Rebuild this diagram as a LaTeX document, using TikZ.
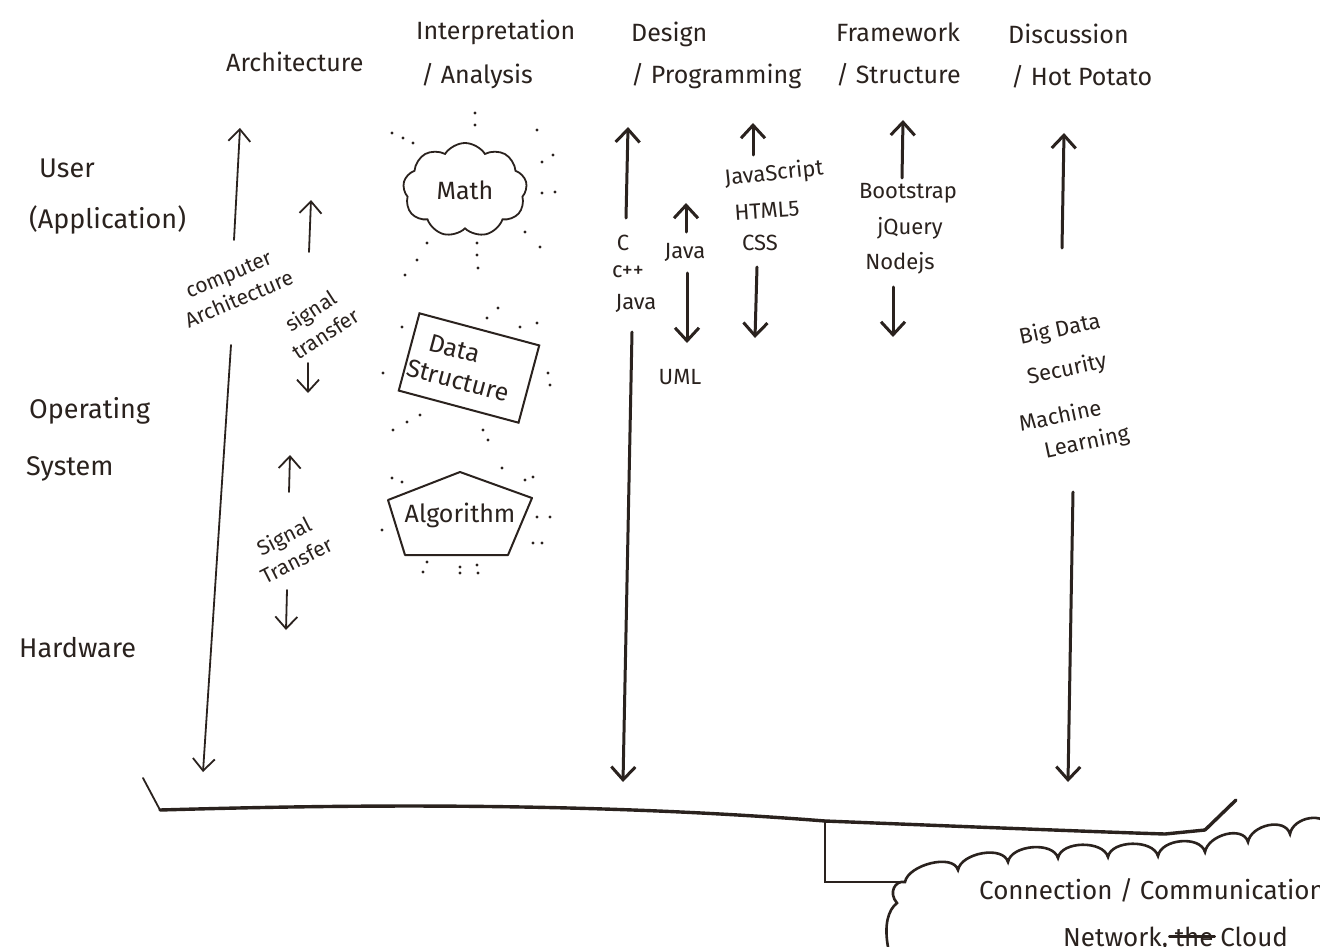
\documentclass[tikz,border=0pt]{standalone}
\usepackage{fontspec}
\setmainfont{Fira Sans}
\usetikzlibrary{arrows.meta,shapes.symbols,shapes.geometric}
\definecolor{ink}{HTML}{2A221E}
\begin{document}
\begin{tikzpicture}[x=1pt,y=-1pt,
  pen/.style={draw=ink,line width=1.8pt,line cap=round},
  mk/.style={draw=ink,line width=3pt,line cap=round},
  penarr/.style={pen,-{Straight Barb[length=12pt,width=22pt]}},
  mkarr/.style={mk,-{Straight Barb[length=13pt,width=24pt]}},
  lbl/.style={font=\fontsize{25}{30}\selectfont,text=ink,inner sep=1pt},
  side/.style={font=\fontsize{27}{32}\selectfont,text=ink,inner sep=1pt},
  slbl/.style={font=\fontsize{21}{27}\selectfont,text=ink,inner sep=1pt,align=center},
  mtxt/.style={font=\fontsize{22}{26}\selectfont,text=ink,inner sep=1pt},
  btxt/.style={font=\fontsize{26}{30}\selectfont,text=ink,inner sep=1pt},
  dot/.style={fill=ink}]
\useasboundingbox (0,0) rectangle (1320,947);
\fill[white] (0,0) rectangle (1320,947);
\clip (0,0) rectangle (1320,947);

% headings
\node[lbl,anchor=base west] (arch) at (225,72) {Architecture};
\node[lbl,anchor=base west] (interp) at (415,40) {Interpretation};
\node[lbl,anchor=base west] (analysis) at (420,84) {/ Analysis};
\node[lbl,anchor=base west] (design) at (630,42) {Design};
\node[lbl,anchor=base west] (prog) at (630,84) {/ Programming};
\node[lbl,anchor=base west] (frame) at (835,42) {Framework};
\node[lbl,anchor=base west] (struct) at (835,84) {/ Structure};
\node[lbl,anchor=base west] (disc) at (1007,44) {Discussion};
\node[lbl,anchor=base west] (hot) at (1010,86) {/ Hot Potato};

% left layer labels
\node[side,anchor=base west] (user) at (38,177) {User};
\node[side,anchor=base west] (app) at (28,228) {(Application)};
\node[side,anchor=base west] (os1) at (28,418) {Operating};
\node[side,anchor=base west] (os2) at (25,475) {System};
\node[side,anchor=base west] (hw) at (18,657) {Hardware};

% architecture column
\node[slbl,rotate=23] (comparch) at (234,287) {computer\\Architecture};
\node[slbl,rotate=33] (sig1) at (318,322) {signal\\transfer};
\node[slbl,rotate=27] (sig2) at (290,548) {Signal\\Transfer};
\coordinate (a1s) at (234,240); \coordinate (a1e) at (240,128);
\coordinate (a2s) at (231,345); \coordinate (a2e) at (203,772);
\coordinate (s1us) at (309,252); \coordinate (s1ue) at (311,200);
\coordinate (s1ds) at (308,363); \coordinate (s1de) at (308,393);
\coordinate (s2us) at (289,492); \coordinate (s2ue) at (290,455);
\coordinate (s2ds) at (287,590); \coordinate (s2de) at (286,630);
\draw[penarr] (a1s) -- (a1e);
\draw[penarr] (a2s) -- (a2e);
\draw[penarr] (s1us) -- (s1ue);
\draw[penarr] (s1ds) -- (s1de);
\draw[penarr] (s2us) -- (s2ue);
\draw[penarr] (s2ds) -- (s2de);

% interpretation column
\node[cloud,draw=ink,line width=1.8pt,cloud puffs=9,cloud puff arc=115,aspect=1.4,
      minimum width=124pt,minimum height=94pt,lbl] (math) at (465,190) {Math};
\node[draw=ink,line width=2pt,rotate=-15,minimum width=124pt,minimum height=80pt,
      lbl,align=left] (ds) at (469,368) {Data\\\hspace*{-0.6em}Structure};
\coordinate (p1) at (460,472); \coordinate (p2) at (532,498);
\coordinate (p3) at (508,555); \coordinate (p4) at (405,555);
\coordinate (p5) at (388,500);
\draw[pen,line width=2pt,line join=round] (p1) -- (p2) -- (p3) -- (p4) -- (p5) -- cycle;
\node[lbl] (algo) at (460,515) {Algorithm};
\foreach \p in {(475,113),(475,125),(392,133),(403,138),(413,143),(537,130),(553,155),
  (542,162),(542,193),(555,192),(525,232),(540,247),(477,243),(477,255),(478,268),
  (427,243),(417,260),(405,275),
  (498,308),(487,318),(520,327),(537,323),(402,327),(548,373),(550,385),(383,373),
  (420,415),(407,422),(393,430),(483,430),(488,440),
  (502,468),(525,480),(533,477),(392,478),(402,482),(537,517),(550,517),(533,543),
  (542,543),(382,530),(427,562),(423,572),(460,567),(460,573),(477,565),(478,573)}
  \fill[dot] \p circle (1.7);

% design column
\node[mtxt] (c) at (623,243) {C};
\node[mtxt] (cpp) at (628,272) {c++};
\node[mtxt] (java1) at (636,303) {Java};
\coordinate (d1s) at (626,218); \coordinate (d1e) at (628,127);
\coordinate (d2s) at (632,332); \coordinate (d2e) at (623,782);
\draw[mkarr] (d1s) -- (d1e);
\draw[mkarr] (d2s) -- (d2e);
\node[mtxt] (java2) at (685,252) {Java};
\node[mtxt] (uml) at (680,377) {UML};
\coordinate (j1s) at (686,232); \coordinate (j1e) at (686,203);
\coordinate (j2s) at (687,273); \coordinate (j2e) at (687,343);
\draw[mkarr] (j1s) -- (j1e);
\draw[mkarr] (j2s) -- (j2e);
\node[mtxt,rotate=6] (js) at (774,174) {JavaScript};
\node[mtxt,rotate=4] (html) at (767,211) {HTML5};
\node[mtxt] (css) at (760,243) {CSS};
\coordinate (w1s) at (753,155); \coordinate (w1e) at (753,123);
\coordinate (w2s) at (757,267); \coordinate (w2e) at (755,338);
\draw[mkarr] (w1s) -- (w1e);
\draw[mkarr] (w2s) -- (w2e);

% framework column
\node[mtxt] (boot) at (908,193) {Bootstrap};
\node[mtxt] (jq) at (910,228) {jQuery};
\node[mtxt] (node) at (900,263) {Nodejs};
\coordinate (f1s) at (902,178); \coordinate (f1e) at (903,120);
\coordinate (f2s) at (893,287); \coordinate (f2e) at (893,337);
\draw[mkarr] (f1s) -- (f1e);
\draw[mkarr] (f2s) -- (f2e);

% discussion column
\node[mtxt,rotate=12] (big) at (1060,330) {Big Data};
\node[mtxt,rotate=12] (sec) at (1067,370) {Security};
\node[mtxt,rotate=12] (mach) at (1060,415) {Machine};
\node[mtxt,rotate=12] (learn) at (1087,443) {Learning};
\coordinate (h1s) at (1062,248); \coordinate (h1e) at (1064,133);
\coordinate (h2s) at (1073,492); \coordinate (h2e) at (1068,782);
\draw[mkarr] (h1s) -- (h1e);
\draw[mkarr] (h2s) -- (h2e);

% bottom bracket
\coordinate (b0) at (143,778); \coordinate (b1) at (160,810);
\coordinate (bj) at (825,821);
\coordinate (b9) at (1205,830); \coordinate (b10) at (1236,800);
\draw[pen] (b0) -- (b1);
\draw[mk,line width=3.4pt,line join=round] (b1) .. controls (300,806) and (560,800) .. (bj)
  .. controls (950,826) and (1100,832) .. (1165,834) -- (b9);
\draw[mk,line width=3.4pt] (b9) -- (b10);
\coordinate (cl) at (905,882);
\draw[pen,line width=2.2pt] (bj) |- (cl);

% bottom cloud
\draw[pen,line width=2.6pt] (888,947) .. controls (884,925) and (888,910) .. (897,903)
  .. controls (888,893) and (895,880) .. (cl)
  .. controls +(3,-17) and +(-5,-17) .. (958,870)
  .. controls +(3,-17) and +(-5,-17) .. (1008,862)
  .. controls +(3,-17) and +(-5,-17) .. (1058,858)
  .. controls +(3,-17) and +(-5,-17) .. (1108,857)
  .. controls +(3,-17) and +(-5,-17) .. (1158,856)
  .. controls +(3,-17) and +(-5,-17) .. (1205,852)
  .. controls +(3,-17) and +(-5,-17) .. (1248,842)
  .. controls +(3,-17) and +(-5,-17) .. (1290,834)
  .. controls +(3,-17) and +(-5,-17) .. (1330,828);
\node[btxt,anchor=base west] (conn) at (978,899) {Connection / Communication};
\node[btxt,anchor=base west] (net) at (1062,946) {Network,};
\node[btxt,anchor=base west] (the) at (net.base east) {\,the};
\node[btxt,anchor=base west] (cloudw) at (the.base east) {\,Cloud};
\draw[pen,line width=2.4pt] (the.west) -- (the.east);
\end{tikzpicture}
\end{document}
